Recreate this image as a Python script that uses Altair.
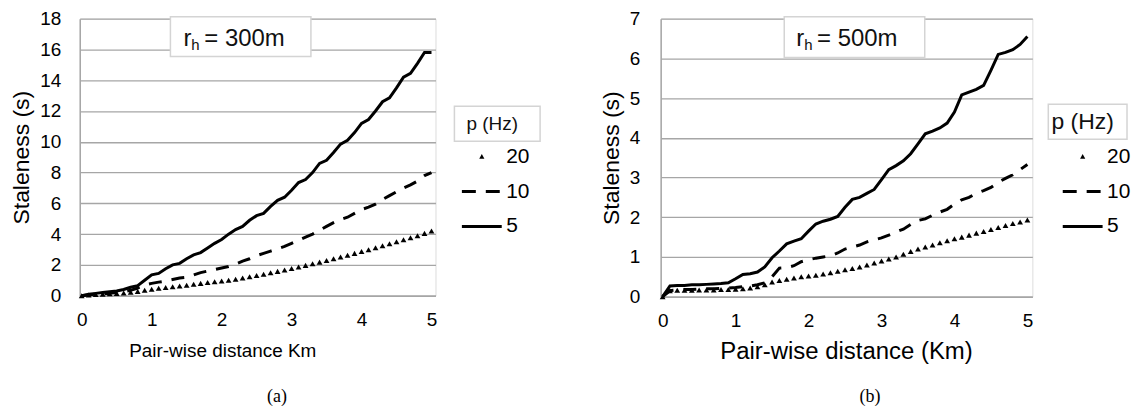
import altair as alt
import pandas as pd

dist = [round(i * 0.1, 1) for i in range(51)]
series_order = ["20", "10", "5"]

a_p20 = [0.0, 0.05, 0.08, 0.1, 0.12, 0.15, 0.18, 0.22, 0.28, 0.35,
         0.42, 0.48, 0.53, 0.58, 0.63, 0.68, 0.74, 0.8, 0.86, 0.9,
         0.95, 1.0, 1.07, 1.15, 1.23, 1.31, 1.4, 1.49, 1.58, 1.67,
         1.77, 1.87, 1.97, 2.07, 2.18, 2.29, 2.4, 2.52, 2.63, 2.75,
         2.87, 2.99, 3.12, 3.25, 3.38, 3.51, 3.64, 3.77, 3.9, 4.05, 4.2]
a_p10 = [0.0, 0.05, 0.1, 0.12, 0.15, 0.2, 0.25, 0.35, 0.5, 0.7,
         0.8, 0.88, 0.95, 1.05, 1.15, 1.2, 1.35, 1.5, 1.6, 1.7,
         1.8, 1.9, 2.05, 2.25, 2.4, 2.6, 2.75, 2.9, 3.05, 3.2,
         3.4, 3.6, 3.8, 4.0, 4.25, 4.5, 4.75, 4.95, 5.1, 5.35,
         5.6, 5.75, 5.95, 6.25, 6.5, 6.75, 7.0, 7.2, 7.45, 7.8, 8.0]
a_p5 = [0.0, 0.1, 0.15, 0.2, 0.25, 0.3, 0.4, 0.55, 0.65, 1.0,
        1.35, 1.45, 1.75, 2.0, 2.1, 2.4, 2.65, 2.8, 3.1, 3.4,
        3.65, 4.0, 4.3, 4.5, 4.9, 5.2, 5.35, 5.8, 6.2, 6.4,
        6.85, 7.35, 7.55, 8.0, 8.6, 8.8, 9.3, 9.85, 10.1, 10.6,
        11.2, 11.45, 12.0, 12.6, 12.85, 13.5, 14.2, 14.45, 15.1, 15.8, 15.8]

b_p20 = [0.0, 0.15, 0.16, 0.16, 0.16, 0.17, 0.17, 0.17, 0.18, 0.18,
         0.19, 0.2, 0.22, 0.25, 0.3, 0.37, 0.41, 0.44, 0.47, 0.5,
         0.52, 0.54, 0.57, 0.6, 0.64, 0.68, 0.71, 0.75, 0.8, 0.85,
         0.9, 0.95, 1.0, 1.07, 1.14, 1.2, 1.25, 1.3, 1.36, 1.41,
         1.46, 1.5, 1.55, 1.6, 1.64, 1.69, 1.74, 1.79, 1.84, 1.88, 1.93]
b_p10 = [0.0, 0.15, 0.17, 0.18, 0.18, 0.19, 0.2, 0.2, 0.21, 0.22,
         0.23, 0.25, 0.27, 0.3, 0.35, 0.5, 0.72, 0.73, 0.78, 0.88,
         0.93, 0.97, 1.0, 1.03, 1.1, 1.2, 1.25, 1.3, 1.38, 1.43,
         1.48, 1.55, 1.63, 1.7, 1.82, 1.92, 1.96, 2.05, 2.13, 2.2,
         2.33, 2.44, 2.5, 2.6, 2.67, 2.75, 2.88, 2.98, 3.07, 3.2, 3.33]
b_p5 = [0.0, 0.27, 0.28, 0.28, 0.3, 0.3, 0.31, 0.32, 0.33, 0.35,
        0.45, 0.56, 0.58, 0.62, 0.75, 0.98, 1.15, 1.33, 1.4, 1.46,
        1.65, 1.83, 1.9, 1.95, 2.02, 2.25, 2.45, 2.5, 2.6, 2.7,
        2.95, 3.2, 3.3, 3.42, 3.6, 3.85, 4.1, 4.17, 4.25, 4.37,
        4.65, 5.08, 5.15, 5.22, 5.32, 5.7, 6.1, 6.15, 6.22, 6.35, 6.55]

FONT = "Liberation Sans"
GRID = "#a6a6a6"

# legend glyphs (unit-square SVG paths): small triangle, dashed line, solid line
LEG_SHAPES = [
    "M0,-0.14L0.13,0.1L-0.13,0.1Z",
    "M-1,-0.075H-0.3V0.075H-1Z M0.2,-0.075H0.9V0.075H0.2Z",
    "M-1,-0.075H1V0.075H-1Z",
]


def make_df(p20, p10, p5):
    rows = []
    for lab, vals in (("20", p20), ("10", p10), ("5", p5)):
        for d, v in zip(dist, vals):
            rows.append({"d": d, "s": v, "p": lab})
    return pd.DataFrame(rows)


def panel(df, ymax, xdom, width, height, xtitle, xtitle_size, xtitle_pad, title_x,
          ylab_pad, rh_val, rh_x, box, leg_box, leg_font, leg_x, leg_y,
          caption, cap_x):
    xsc = alt.Scale(domain=xdom, nice=False, zero=False)
    ysc = alt.Scale(domain=[0, ymax], nice=False)
    x = alt.X("d:Q", scale=xsc, axis=alt.Axis(
        values=[0, 1, 2, 3, 4, 5], title=xtitle, grid=False, ticks=False, tickSize=0,
        labelFontSize=19, labelFont=FONT, labelColor="#000", labelPadding=15,
        titleFont=FONT, titleFontSize=xtitle_size, titleFontWeight="normal",
        titleColor="#000", titlePadding=xtitle_pad, titleX=title_x,
        domainColor=GRID, domainWidth=1.5, labelFlush=False))
    y = alt.Y("s:Q", scale=ysc, axis=alt.Axis(
        values=list(range(0, ymax + 1, 2 if ymax > 10 else 1)),
        title="Staleness (s)", grid=True, gridColor=GRID, gridWidth=1.3,
        ticks=False, tickSize=0, labelFontSize=19, labelFont=FONT,
        labelColor="#000", labelPadding=ylab_pad, titleFont=FONT,
        titleFontSize=23, titleFontWeight="normal", titleColor="#000",
        titlePadding=6, domainColor=GRID, domainWidth=1.5))

    base = alt.Chart(df)
    line10 = base.transform_filter("datum.p == '10'").mark_line(
        strokeWidth=3, color="black", strokeDash=[13, 10]).encode(x=x, y=y)
    line5 = base.transform_filter("datum.p == '5'").mark_line(
        strokeWidth=3, color="black").encode(x=x, y=y)
    tri = base.transform_filter("datum.p == '20'").mark_point(
        shape="triangle-up", filled=True, color="black", size=34, opacity=1).encode(x=x, y=y)

    # legend carrier: invisible marks, only the legend of the shape scale shows
    leg = base.mark_point(filled=True, color="black", opacity=0).encode(
        x=x, y=y,
        shape=alt.Shape("p:N", scale=alt.Scale(domain=series_order, range=LEG_SHAPES),
                        legend=alt.Legend(
                            title=None, orient="none", legendX=leg_x, legendY=leg_y,
                            symbolSize=1600, symbolFillColor="black",
                            symbolStrokeColor="black", symbolStrokeWidth=0.5,
                            symbolOpacity=1,
                            labelFont=FONT, labelFontSize=21, labelColor="#000",
                            labelOffset=4, rowPadding=4, padding=0)))

    one = pd.DataFrame({"k": [0]})
    ann = alt.Chart(one)
    rh_box = ann.mark_rect(fill="white", stroke="#d4d4d4", strokeWidth=1.5).encode(
        x=alt.value(box[0]), x2=alt.value(box[1]), y=alt.value(box[2]), y2=alt.value(box[3]))
    r_t = ann.mark_text(text="r", font=FONT, fontSize=24, align="left",
                        baseline="alphabetic", color="#111").encode(
        x=alt.value(rh_x), y=alt.value(box[2] + 29))
    h_t = ann.mark_text(text="h", font=FONT, fontSize=15, align="left",
                        baseline="alphabetic", color="#111").encode(
        x=alt.value(rh_x + 8), y=alt.value(box[2] + 33))
    v_t = ann.mark_text(text="= " + rh_val, font=FONT, fontSize=24, align="left",
                        baseline="alphabetic", color="#111").encode(
        x=alt.value(rh_x + 21), y=alt.value(box[2] + 29))
    lg_box = ann.mark_rect(fill="white", stroke="#d4d4d4", strokeWidth=1.5).encode(
        x=alt.value(leg_box[0]), x2=alt.value(leg_box[1]),
        y=alt.value(leg_box[2]), y2=alt.value(leg_box[3]))
    lg_t = ann.mark_text(text="p (Hz)", font=FONT, fontSize=leg_font, align="center",
                         baseline="middle", color="#111").encode(
        x=alt.value((leg_box[0] + leg_box[1]) / 2 - 5),
        y=alt.value((leg_box[2] + leg_box[3]) / 2))
    cap = ann.mark_text(text=caption, font="Liberation Serif", fontSize=18,
                        align="center", baseline="middle", color="#000").encode(
        x=alt.value(cap_x), y=alt.value(380))

    return alt.layer(rh_box, line10, line5, tri, leg, r_t, h_t, v_t, lg_box, lg_t,
                     cap).properties(width=width, height=height)


left = panel(make_df(a_p20, a_p10, a_p5), 18, [-0.028, 5.057], 357, 278,
             "Pair-wise distance Km", 19, 12, 143, 19, "300m", 104,
             (91, 232, -2, 38), (376, 462, 88, 123), 19, 383, 118, "(a)", 198)
right = panel(make_df(b_p20, b_p10, b_p5), 7, [-0.027, 5.068], 373, 279,
              "Pair-wise distance (Km)", 24, 9, 186, 21, "500m", 136,
              (124, 265, -2, 39), (389, 468, 86, 121), 23, 403, 118, "(b)", 210)

chart = alt.hconcat(left, right, spacing=57).resolve_scale(
    shape="independent").resolve_legend(shape="independent").properties(
    padding={"left": 2, "top": 0, "right": 0, "bottom": 0}).configure_view(
    stroke=None).configure(background="white")

chart.save("out.html", embed_options={"renderer": "svg", "actions": False})
